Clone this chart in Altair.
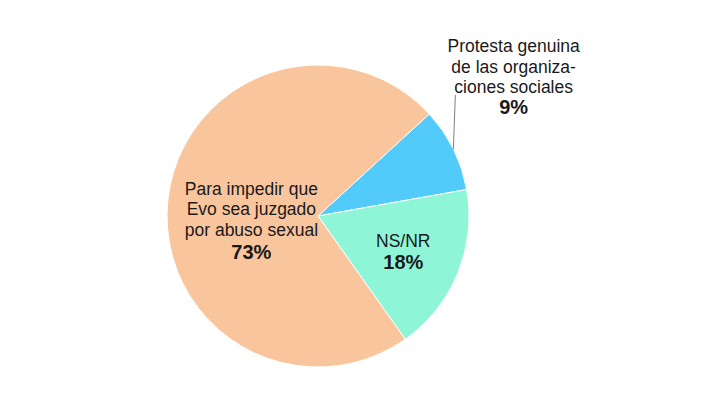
import math
import altair as alt
import pandas as pd

# ---- data ----
categories = ["Protesta genuina", "NS/NR", "Para impedir"]
values = [9, 18, 73]
name_labels = [
    "Protesta genuina\nde las organiza-\nciones sociales",
    "NS/NR",
    "Para impedir que\nEvo sea juzgado\npor abuso sexual",
]
pct_labels = ["9%", "18%", "73%"]
colors = ["#52CBFA", "#8EF6D6", "#F9C59D"]

# ---- layout constants ----
START_DEG = 47.5
START = math.radians(START_DEG)
R = 151
SIZE = 300
CX = SIZE / 2
CY = SIZE / 2
FONT = "Liberation Sans"

cum = []
acc = 0
for v in values:
    cum.append(acc + v / 2)
    acc += v

df = pd.DataFrame({
    "cat": categories,
    "value": values,
    "ord": list(range(len(values))),
    "name": name_labels,
    "pct": pct_labels,
    "mid": cum,
})

theta_scale = alt.Scale(domain=[0, 100], range=[START, START + 2 * math.pi])

base = alt.Chart(df)

pie = base.mark_arc(outerRadius=R, stroke="white", strokeWidth=1).encode(
    theta=alt.Theta("value:Q", stack=True, scale=theta_scale),
    order=alt.Order("ord:Q"),
    color=alt.Color("cat:N", scale=alt.Scale(domain=categories, range=colors), legend=None),
)


def label(cat, field, radius, dx, dy, size, weight):
    return base.transform_filter(alt.datum.cat == cat).mark_text(
        radius=radius, dx=dx, dy=dy, font=FONT, fontSize=size, fontWeight=weight,
        lineBreak="\n", lineHeight=20.5, align="center", baseline="middle",
        color="#1a1a1a",
    ).encode(
        theta=alt.Theta("mid:Q", stack=None, scale=theta_scale),
        text=alt.Text(f"{field}:N"),
    )


layers = [
    pie,
    label("Para impedir", "name", 67, 0, -19, 17.5, "normal"),
    label("Para impedir", "pct", 67, 0, 44, 20, "bold"),
    label("NS/NR", "name", 90, 2, -8, 17.5, "normal"),
    label("NS/NR", "pct", 90, 2, 13, 20, "bold"),
    label("Protesta genuina", "name", 245, -24, -60, 17.5, "normal"),
    label("Protesta genuina", "pct", 245, -24, 1, 20, "bold"),
]

leader = base.transform_filter(alt.datum.cat == "Protesta genuina").transform_calculate(
    ang=f"({START_DEG} + datum.mid * 3.6) * PI / 180",
).transform_calculate(
    lx=f"{CX} + {R} * sin(datum.ang)",
    ly=f"{CY} - {R} * cos(datum.ang)",
).transform_calculate(
    lx2="datum.lx + 2",
    ly2="29",
).mark_rule(color="#7f7f7f", strokeWidth=1).encode(
    x=alt.X("lx:Q", scale=None),
    y=alt.Y("ly:Q", scale=None),
    x2="lx2:Q",
    y2="ly2:Q",
)

chart = alt.layer(*layers, leader).properties(
    width=SIZE,
    height=SIZE,
    autosize=alt.AutoSizeParams(type="none"),
    padding={"left": 160, "top": 58, "right": 244, "bottom": 25},
).configure_view(stroke=None)

chart.save("out.html", embed_options={"renderer": "svg", "actions": False})
